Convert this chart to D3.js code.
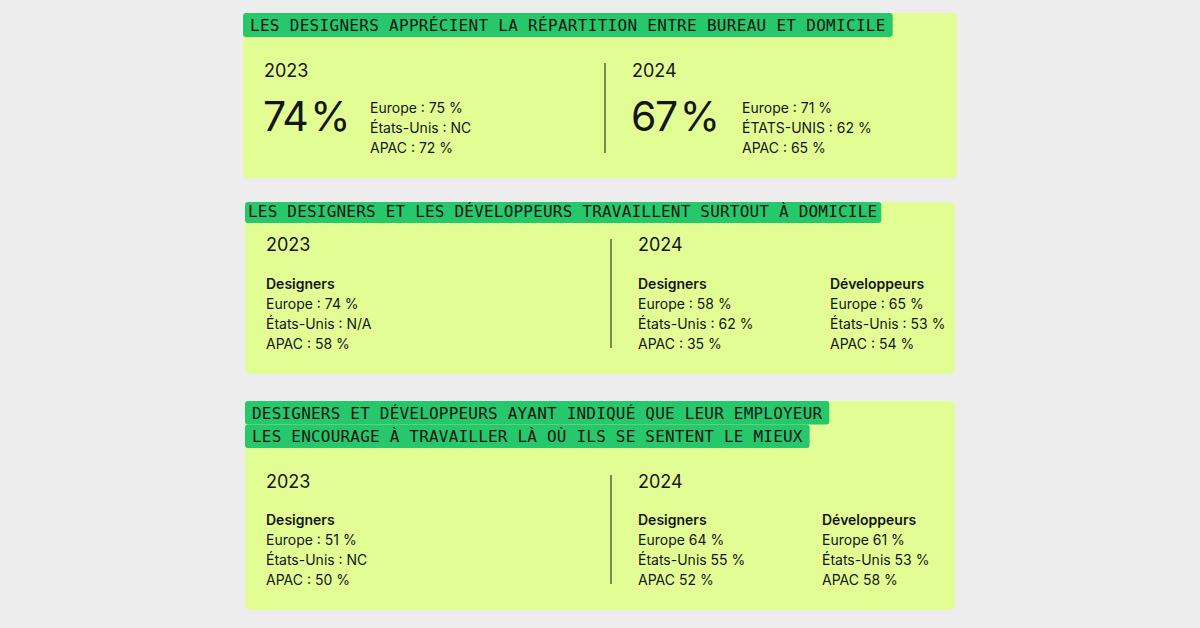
<!DOCTYPE html>
<html><head><meta charset="utf-8">
<script src="https://cdn.jsdelivr.net/npm/d3@7"></script>
<style>
html,body{margin:0;padding:0;background:#ededed;}
svg{display:block;}
</style></head>
<body>
<svg id="c" width="1200" height="628"></svg>
<script>
// ---- data ----
const titles = [
  ["LES DESIGNERS APPRÉCIENT LA RÉPARTITION ENTRE BUREAU ET DOMICILE"],
  ["LES DESIGNERS ET LES DÉVELOPPEURS TRAVAILLENT SURTOUT À DOMICILE"],
  ["DESIGNERS ET DÉVELOPPEURS AYANT INDIQUÉ QUE LEUR EMPLOYEUR", "LES ENCOURAGE À TRAVAILLER LÀ OÙ ILS SE SENTENT LE MIEUX"]
];
const years = ["2023", "2024"];
const groups = ["Designers", "Développeurs"];
const p1Totals = ["74 %", "67 %"];
const p1Regions2023 = ["Europe : 75 %", "États-Unis : NC", "APAC : 72 %"];
const p1Regions2024 = ["Europe : 71 %", "ÉTATS-UNIS : 62 %", "APAC : 65 %"];
const p2Designers2023 = ["Europe : 74 %", "États-Unis : N/A", "APAC : 58 %"];
const p2Designers2024 = ["Europe : 58 %", "États-Unis : 62 %", "APAC : 35 %"];
const p2Developers2024 = ["Europe : 65 %", "États-Unis : 53 %", "APAC : 54 %"];
const p3Designers2023 = ["Europe : 51 %", "États-Unis : NC", "APAC : 50 %"];
const p3Designers2024 = ["Europe 64 %", "États-Unis 55 %", "APAC 52 %"];
const p3Developers2024 = ["Europe 61 %", "États-Unis 53 %", "APAC 58 %"];

// ---- styles ----
const LIME = "#e3fd95", GREEN = "#27c86b", INK = "#151515";
const MONO = "'DejaVu Sans Mono', 'Liberation Mono', monospace";
const SANS = "Inter, 'Liberation Sans', Arial, sans-serif";

const svg = d3.select("#c");
svg.append("rect").attr("width", 1200).attr("height", 628).attr("fill", "#ededed");

// row scale for region lists
const row = d3.scaleLinear().domain([0, 1]).range([0, 20]);

function panel(cfg) {
  const g = svg.append("g");
  g.append("rect").attr("x", cfg.x).attr("y", cfg.y).attr("width", cfg.w).attr("height", cfg.h)
    .attr("rx", 5).attr("fill", LIME);
  cfg.title.forEach((line, i) => {
    const ty = cfg.y + i * cfg.lineH;
    const t = g.append("text").attr("x", cfg.x + cfg.padL).attr("y", ty + cfg.lineH - 6)
      .attr("font-family", MONO).attr("font-size", 16).attr("letter-spacing", cfg.ls)
      .attr("fill", INK).text(line);
    const w = t.node().getComputedTextLength();
    g.insert("rect", "text").attr("x", cfg.x).attr("y", ty).attr("width", w + cfg.padL + cfg.padR).attr("height", cfg.lineH)
      .attr("rx", 3).attr("fill", GREEN);
  });
  return g;
}

function lines(g, x, y0, arr, bold) {
  const s = g.append("g");
  if (bold) {
    s.append("text").attr("x", x).attr("y", y0).attr("font-family", SANS).attr("font-size", 14)
      .attr("font-weight", 600).attr("fill", INK).text(bold);
    y0 += 20;
  }
  s.selectAll("text.r").data(arr).join("text").attr("class", "r")
    .attr("x", x).attr("y", (d, i) => y0 + row(i))
    .attr("font-family", SANS).attr("font-size", 14).attr("fill", INK).text(d => d);
}

function yearLabel(g, x, y, t) {
  g.append("text").attr("x", x).attr("y", y).attr("font-family", SANS).attr("font-size", 18)
    .attr("fill", INK).text(t);
}
function divider(g, x, y1, y2) {
  g.append("line").attr("x1", x).attr("x2", x).attr("y1", y1).attr("y2", y2)
    .attr("stroke", "#3a3f1e").attr("stroke-width", 1.2);
}

// ---- panel 1 ----
const g1 = panel({ x: 243, y: 13, w: 714, h: 165, lineH: 24, padL: 7, padR: 7, ls: 0.3, title: titles[0] });
yearLabel(g1, 264, 77, years[0]);
yearLabel(g1, 632, 77, years[1]);
g1.selectAll("text.big").data(p1Totals).join("text").attr("class", "big")
  .attr("x", (d, i) => i === 0 ? 263 : 631).attr("y", 131)
  .attr("font-family", SANS).attr("font-size", 41).attr("letter-spacing", -1.5)
  .attr("word-spacing", -7)
  .attr("fill", INK).text(d => d);
lines(g1, 370, 113, p1Regions2023);
lines(g1, 742, 113, p1Regions2024);
divider(g1, 605, 63, 153);

// ---- panel 2 ----
const g2 = panel({ x: 245, y: 202, w: 710, h: 172, lineH: 21, padL: 3, padR: 4, ls: 0.2, title: titles[1] });
yearLabel(g2, 266, 251, years[0]);
yearLabel(g2, 638, 251, years[1]);
lines(g2, 266, 289, p2Designers2023, groups[0]);
lines(g2, 638, 289, p2Designers2024, groups[0]);
lines(g2, 830, 289, p2Developers2024, groups[1]);
divider(g2, 611, 239, 348);

// ---- panel 3 ----
const g3 = panel({ x: 245, y: 401, w: 710, h: 209, lineH: 23.5, padL: 7, padR: 7, ls: 0.2, title: titles[2] });
yearLabel(g3, 266, 488, years[0]);
yearLabel(g3, 638, 488, years[1]);
lines(g3, 266, 525, p3Designers2023, groups[0]);
lines(g3, 638, 525, p3Designers2024, groups[0]);
lines(g3, 822, 525, p3Developers2024, groups[1]);
divider(g3, 611, 475, 584);
</script>
</body></html>
